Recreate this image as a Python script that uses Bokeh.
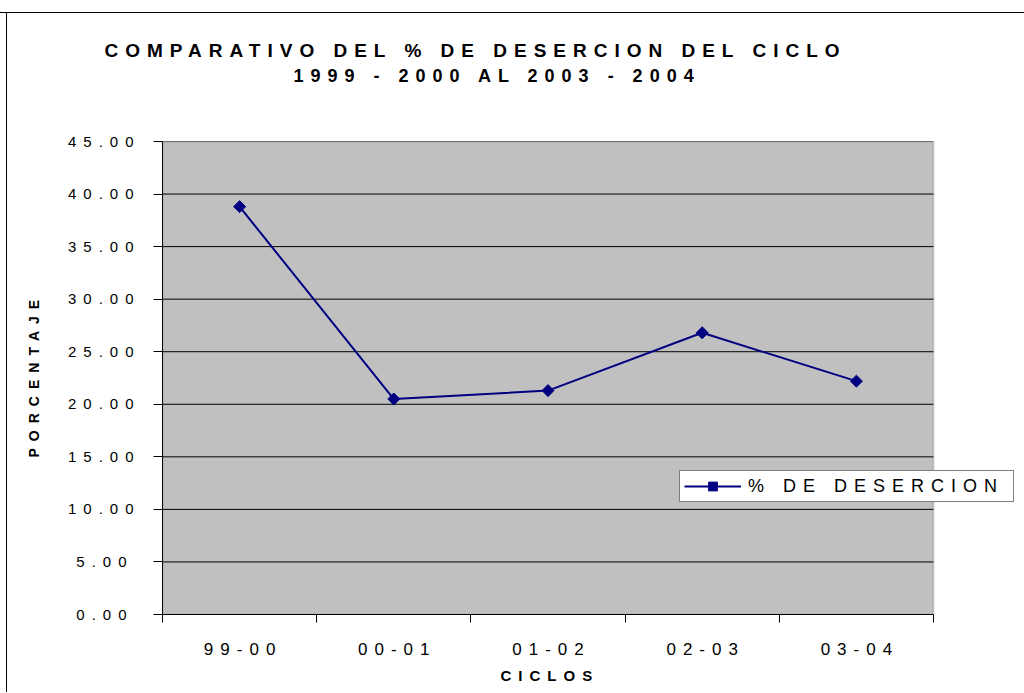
import numpy as np
from bokeh.plotting import figure
from bokeh.models import (Range1d, FixedTicker, PrintfTickFormatter, Legend, LegendItem,
                          Title, BoxAnnotation, ColumnDataSource)
from bokeh.embed import file_html
from bokeh.resources import INLINE

# ---- data ----
categories = ["99-00", "00-01", "01-02", "02-03", "03-04"]
desercion = [38.8, 20.5, 21.3, 26.8, 22.2]
y_ticks = [0, 5, 10, 15, 20, 25, 30, 35, 40, 45]
title_lines = ["COMPARATIVO DEL % DE DESERCION DEL CICLO", "1999 - 2000 AL 2003 - 2004"]
x_label = "CICLOS"
y_label = "PORCENTAJE"
series_name = "% DE DESERCION"

FONT = "Liberation Sans"
NAVY = "#000080"
LS = 7                      # letter spacing (px) of the reference's texts
n = len(categories)
W, H = 1024, 692
LEFT, TOP, BOTTOM = 162, 141, 614      # plotting area edges (px)
PLOT_W = 771                # width of the grey plotting area (px)
FRAME_R = 1016              # Bokeh frame right edge (room for the legend)
FRAME_W = FRAME_R - LEFT
PX_PER_UNIT = PLOT_W / n

centers = [i + 0.5 for i in range(n)]
bounds = list(range(n + 1))
# compensate the rightward growth of letter-spaced, centred labels
label_ticks = [c - LS * (len(lab) - 1) / 2 / PX_PER_UNIT for c, lab in zip(centers, categories)]
src = ColumnDataSource(data=dict(x=centers, y=desercion))
grid_src = ColumnDataSource(data=dict(x0=[0] * len(y_ticks), x1=[n] * len(y_ticks),
                                      y=y_ticks))

p = figure(width=W, height=H, output_backend="svg", toolbar_location=None,
           x_range=Range1d(0, n * FRAME_W / PLOT_W), y_range=Range1d(y_ticks[0], y_ticks[-1]),
           min_border_left=LEFT, min_border_right=W - FRAME_R,
           min_border_top=TOP, min_border_bottom=H - BOTTOM)
p.styles = {
    "letter-spacing": f"{LS}px",
    "background": "linear-gradient(#000,#000) 0px 12px / 100% 1px no-repeat, "
                  "linear-gradient(#000,#000) 6px 12px / 1px 100% no-repeat, #ffffff",
}
p.border_fill_alpha = 0
p.background_fill_color = "white"
p.outline_line_color = None
p.xgrid.visible = False
p.ygrid.visible = False

# grey plotting area with its grey border
p.add_layout(BoxAnnotation(left=0, right=n, fill_color="#C0C0C0", fill_alpha=1,
                           line_color="#808080", line_width=2, level="underlay"))
# horizontal grid lines limited to the plotting area
p.segment(x0="x0", x1="x1", y0="y", y1="y", source=grid_src, line_color="black", line_width=1)

# y axis
ya = p.yaxis[0]
ya.ticker = FixedTicker(ticks=y_ticks)
ya.formatter = PrintfTickFormatter(format="%.2f")
ya.major_tick_out = 9
ya.major_tick_in = 0
ya.major_tick_line_color = "black"
ya.minor_tick_line_color = None
ya.axis_line_color = "black"
ya.major_label_standoff = 48
ya.major_label_text_font = FONT
ya.major_label_text_font_size = "15px"
ya.major_label_text_color = "black"

# x axis
xa = p.xaxis[0]
xa.bounds = (0, n)
xa.ticker = FixedTicker(ticks=label_ticks, minor_ticks=bounds)
xa.major_label_overrides = {t: lab for t, lab in zip(label_ticks, categories)}
xa.major_tick_line_color = None
xa.major_tick_out = 0
xa.major_tick_in = 0
xa.minor_tick_in = 0
xa.minor_tick_out = 8
xa.minor_tick_line_color = "black"
xa.axis_line_color = "black"
xa.major_label_standoff = 20
xa.major_label_text_font = FONT
xa.major_label_text_font_size = "17px"
xa.major_label_text_color = "black"

# axis titles
p.add_layout(Title(text=x_label, align="left", offset=500 - LEFT, standoff=14,
                   text_font=FONT, text_font_size="15px", text_font_style="bold",
                   text_color="black"), "below")
p.add_layout(Title(text=y_label, align="left", offset=157, standoff=45,
                   text_font=FONT, text_font_size="14px", text_font_style="bold",
                   text_color="black"), "left")

# series
r_line = p.line(x="x", y="y", source=src, line_color=NAVY, line_width=2)
r_pts = p.scatter(x="x", y="y", source=src, marker="square", angle=np.pi / 4, size=8.5,
                  fill_color=NAVY, line_color=NAVY)

legend = Legend(items=[LegendItem(label=series_name, renderers=[r_line, r_pts])],
                location=(679 - LEFT, BOTTOM - 502), margin=0, padding=4, spacing=0,
                glyph_width=57, glyph_height=22, label_standoff=7,
                label_width=261, label_height=14,
                border_line_color="black", border_line_width=1,
                background_fill_color="white", background_fill_alpha=1,
                label_text_font=FONT, label_text_font_size="18px", label_text_color="black")
p.add_layout(legend)

# chart title: spacer nearest the plot, then line 2, then line 1
p.add_layout(Title(text=" ", standoff=34, text_font=FONT, text_font_size="18px",
                   text_font_style="bold"), "above")
p.add_layout(Title(text=title_lines[1], align="left", offset=293 - LEFT, standoff=0,
                   text_font=FONT, text_font_size="18px", text_font_style="bold",
                   text_color="black"), "above")
p.add_layout(Title(text=title_lines[0], align="left", offset=104 - LEFT, standoff=5,
                   text_font=FONT, text_font_size="19px", text_font_style="bold",
                   text_color="black"), "above")

open("out.html", "w").write(file_html(p, INLINE))
